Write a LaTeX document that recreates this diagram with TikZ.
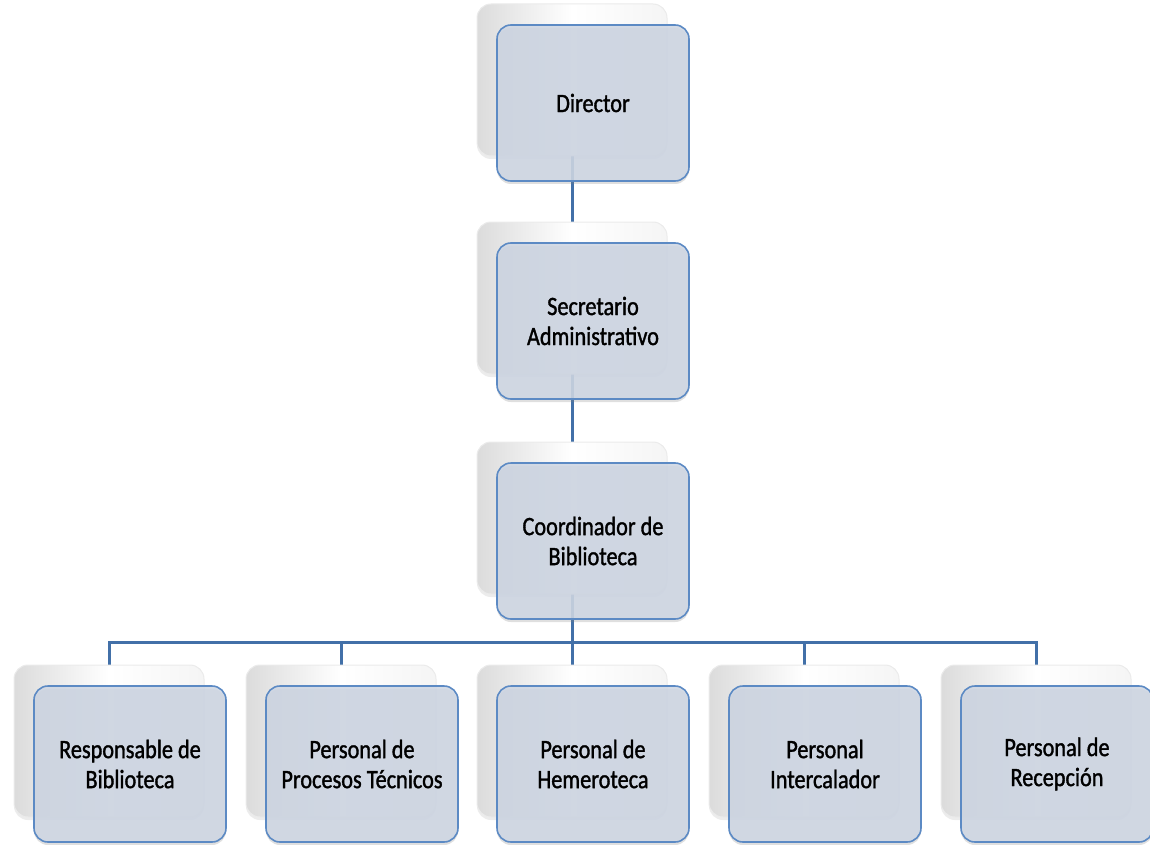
\documentclass[tikz,border=0pt]{standalone}
\usepackage{fontspec}
\setmainfont[FakeStretch=0.84,FakeBold=1.3]{Carlito}
\usetikzlibrary{shadows,calc}
\definecolor{linkblue}{RGB}{66,112,168}
\definecolor{cardfill}{RGB}{206,214,227}
\definecolor{cardedge}{RGB}{92,138,196}
\tikzset{
  x=1pt, y=-1pt,
  link/.style={draw=linkblue, line width=3pt},
  backcard/.style={rounded corners=14pt, minimum width=190pt, minimum height=152pt,
    draw=black!8, line width=1pt,
    left color=black!14, right color=black!4, middle color=white,
    drop shadow={opacity=0.15, shadow xshift=0pt, shadow yshift=-3pt}},
  frontcard/.style={rounded corners=14pt, minimum width=192pt, minimum height=156pt,
    draw=cardedge, line width=1.6pt, fill=cardfill, fill opacity=0.88, text opacity=1,
    align=center, font=\fontsize{26.5}{30}\selectfont,
    drop shadow={opacity=0.25, shadow xshift=0pt, shadow yshift=-3pt}},
}
\begin{document}
\begin{tikzpicture}
\useasboundingbox (0,0) rectangle (1150,845);
% centres of the back cards, where the connectors meet
\coordinate (dirB) at (572,80);
\coordinate (secB) at (572,298);
\coordinate (coB) at (572,518);
\coordinate (r1B) at (109,741);
\coordinate (r2B) at (341,741);
\coordinate (r3B) at (572,741);
\coordinate (r4B) at (804,741);
\coordinate (r5B) at (1036,741);
\coordinate (bus) at (572,642);
% connectors
\draw[link] (dirB) -- (secB);
\draw[link] (secB) -- (coB);
\draw[link] (coB) -- (bus);
\foreach \r in {r1B,r2B,r3B,r4B,r5B}
  \draw[link] (bus) -| (\r);
% cards
\foreach \c/\txt in {dir/Director, sec/{Secretario\\Administrativo}, co/{Coordinador de\\Biblioteca},
  r1/{Responsable de\\Biblioteca}, r2/{Personal de\\Procesos Técnicos}, r3/{Personal de\\Hemeroteca},
  r4/{Personal\\Intercalador}, r5/{Personal de\\Recepción}} {
  \node[backcard] (\c back) at (\c B) {};
  \node[frontcard] (\c) at ($(\c B)+(21,23)$) {\txt};
}
\end{tikzpicture}
\end{document}
